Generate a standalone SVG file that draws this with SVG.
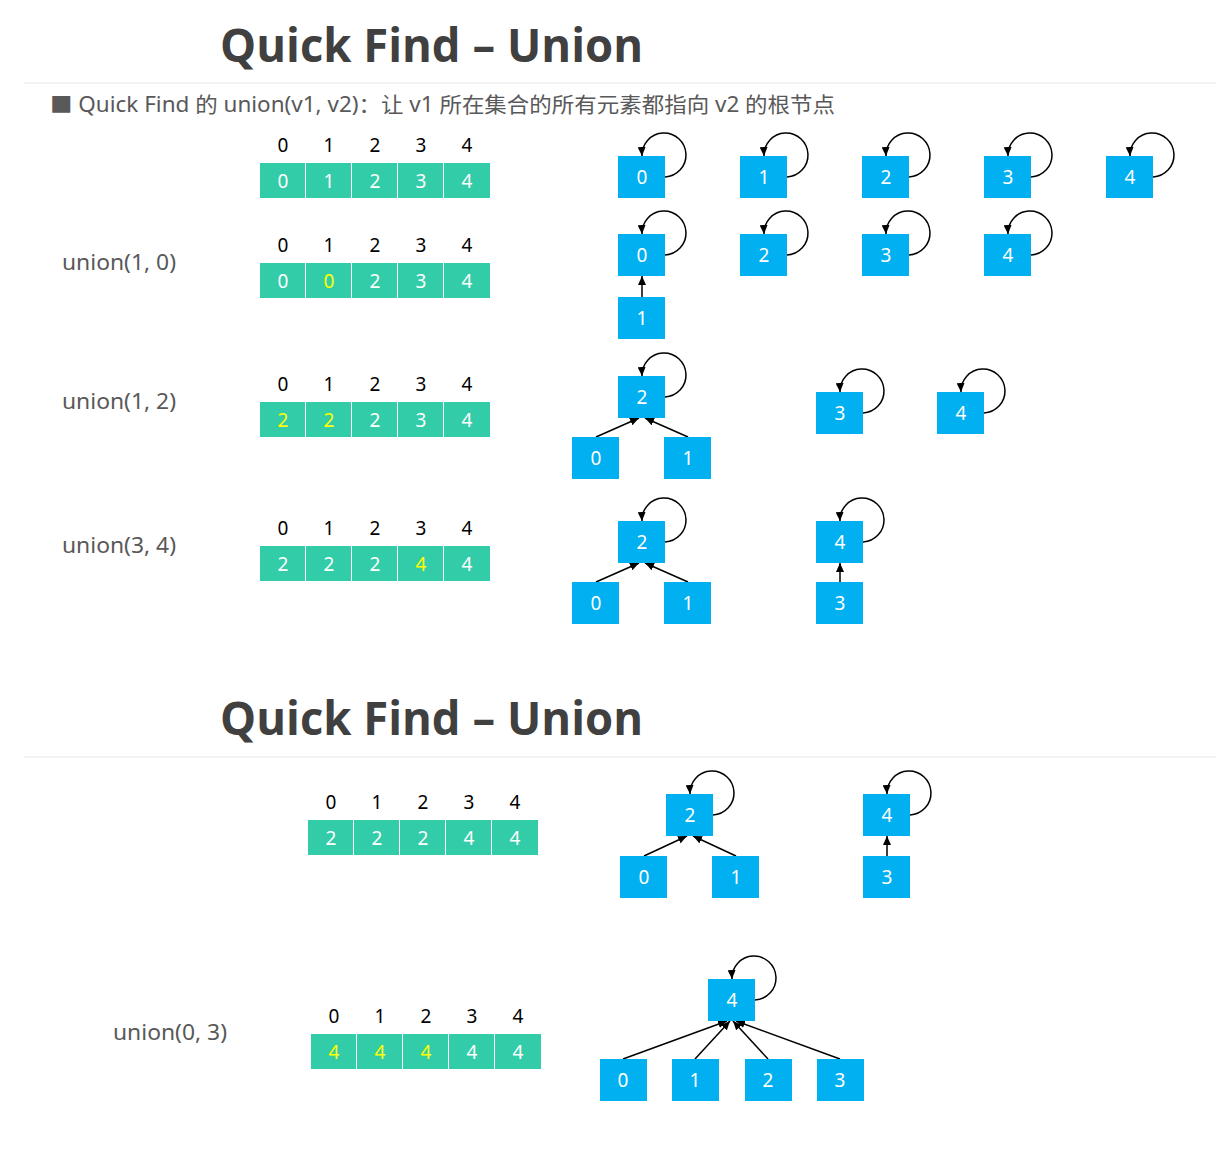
<svg xmlns="http://www.w3.org/2000/svg" width="1216" height="1155" viewBox="0 0 1216 1155">
<style>
.title{font-family:"Open Sans","Noto Sans",sans-serif;font-weight:bold;font-size:46px;fill:#404040}
.sub{font-family:"Noto Sans","Noto Sans CJK SC",sans-serif;font-size:21px;fill:#595959}
.lbl{font-family:"Noto Sans",sans-serif;font-size:22px;fill:#595959}
.idx{font-family:"Noto Sans",sans-serif;font-size:19px;fill:#000;text-anchor:middle}
.cell{fill:#33CCA8}
.cv{font-family:"Noto Sans",sans-serif;font-size:19px;fill:#fff;text-anchor:middle}
.y{fill:#FFFF00}
.node rect{fill:#00B0F0}
.node text{font-family:"Noto Sans",sans-serif;font-size:19px;fill:#fff;text-anchor:middle}
.e{stroke:#000;stroke-width:1.5;fill:none;marker-end:url(#ah)}
.sep{stroke:#f2f2f2;stroke-width:2}
</style>
<defs>
<marker id="ah" markerUnits="userSpaceOnUse" markerWidth="9" markerHeight="8" refX="9" refY="4" orient="auto">
<path d="M0,0 L9,4 L0,8 z" fill="#000"/>
</marker>
</defs>
<rect width="1216" height="1155" fill="#fff"/>

<!-- Section 1 header -->
<text class="title" x="220" y="62" textLength="423" lengthAdjust="spacingAndGlyphs">Quick Find – Union</text>
<line class="sep" x1="24" y1="83" x2="1216" y2="83"/>
<text class="sub" x="50" y="112" textLength="785" lengthAdjust="spacingAndGlyphs">■ Quick Find 的 union(v1, v2)：让 v1 所在集合的所有元素都指向 v2 的根节点</text>

<text class="lbl" x="62" y="270" textLength="114" lengthAdjust="spacingAndGlyphs">union(1, 0)</text>
<text class="lbl" x="62" y="409" textLength="114" lengthAdjust="spacingAndGlyphs">union(1, 2)</text>
<text class="lbl" x="62" y="553" textLength="114" lengthAdjust="spacingAndGlyphs">union(3, 4)</text>
<text class="lbl" x="113" y="1040" textLength="114" lengthAdjust="spacingAndGlyphs">union(0, 3)</text>

<!-- Arrays -->
<g id="array1">
<text class="idx" x="283" y="152">0</text><text class="idx" x="329" y="152">1</text><text class="idx" x="375" y="152">2</text><text class="idx" x="421" y="152">3</text><text class="idx" x="467" y="152">4</text>
<rect class="cell" x="260" y="163" width="45" height="35"/><rect class="cell" x="306" y="163" width="45" height="35"/><rect class="cell" x="352" y="163" width="45" height="35"/><rect class="cell" x="398" y="163" width="45" height="35"/><rect class="cell" x="444" y="163" width="46" height="35"/>
<text class="cv" x="283" y="188">0</text><text class="cv" x="329" y="188">1</text><text class="cv" x="375" y="188">2</text><text class="cv" x="421" y="188">3</text><text class="cv" x="467" y="188">4</text>
</g>
<g id="array2">
<text class="idx" x="283" y="252">0</text><text class="idx" x="329" y="252">1</text><text class="idx" x="375" y="252">2</text><text class="idx" x="421" y="252">3</text><text class="idx" x="467" y="252">4</text>
<rect class="cell" x="260" y="263" width="45" height="35"/><rect class="cell" x="306" y="263" width="45" height="35"/><rect class="cell" x="352" y="263" width="45" height="35"/><rect class="cell" x="398" y="263" width="45" height="35"/><rect class="cell" x="444" y="263" width="46" height="35"/>
<text class="cv" x="283" y="288">0</text><text class="cv y" x="329" y="288">0</text><text class="cv" x="375" y="288">2</text><text class="cv" x="421" y="288">3</text><text class="cv" x="467" y="288">4</text>
</g>
<g id="array3">
<text class="idx" x="283" y="391">0</text><text class="idx" x="329" y="391">1</text><text class="idx" x="375" y="391">2</text><text class="idx" x="421" y="391">3</text><text class="idx" x="467" y="391">4</text>
<rect class="cell" x="260" y="402" width="45" height="35"/><rect class="cell" x="306" y="402" width="45" height="35"/><rect class="cell" x="352" y="402" width="45" height="35"/><rect class="cell" x="398" y="402" width="45" height="35"/><rect class="cell" x="444" y="402" width="46" height="35"/>
<text class="cv y" x="283" y="427">2</text><text class="cv y" x="329" y="427">2</text><text class="cv" x="375" y="427">2</text><text class="cv" x="421" y="427">3</text><text class="cv" x="467" y="427">4</text>
</g>
<g id="array4">
<text class="idx" x="283" y="535">0</text><text class="idx" x="329" y="535">1</text><text class="idx" x="375" y="535">2</text><text class="idx" x="421" y="535">3</text><text class="idx" x="467" y="535">4</text>
<rect class="cell" x="260" y="546" width="45" height="35"/><rect class="cell" x="306" y="546" width="45" height="35"/><rect class="cell" x="352" y="546" width="45" height="35"/><rect class="cell" x="398" y="546" width="45" height="35"/><rect class="cell" x="444" y="546" width="46" height="35"/>
<text class="cv" x="283" y="571">2</text><text class="cv" x="329" y="571">2</text><text class="cv" x="375" y="571">2</text><text class="cv y" x="421" y="571">4</text><text class="cv" x="467" y="571">4</text>
</g>

<!-- Section 2 header -->
<text class="title" x="220" y="735" textLength="423" lengthAdjust="spacingAndGlyphs">Quick Find – Union</text>
<line class="sep" x1="24" y1="757" x2="1216" y2="757"/>

<g id="array5">
<text class="idx" x="331" y="809">0</text><text class="idx" x="377" y="809">1</text><text class="idx" x="423" y="809">2</text><text class="idx" x="469" y="809">3</text><text class="idx" x="515" y="809">4</text>
<rect class="cell" x="308" y="820" width="45" height="35"/><rect class="cell" x="354" y="820" width="45" height="35"/><rect class="cell" x="400" y="820" width="45" height="35"/><rect class="cell" x="446" y="820" width="45" height="35"/><rect class="cell" x="492" y="820" width="46" height="35"/>
<text class="cv" x="331" y="845">2</text><text class="cv" x="377" y="845">2</text><text class="cv" x="423" y="845">2</text><text class="cv" x="469" y="845">4</text><text class="cv" x="515" y="845">4</text>
</g>
<g id="array6">
<text class="idx" x="334" y="1023">0</text><text class="idx" x="380" y="1023">1</text><text class="idx" x="426" y="1023">2</text><text class="idx" x="472" y="1023">3</text><text class="idx" x="518" y="1023">4</text>
<rect class="cell" x="311" y="1034" width="45" height="35"/><rect class="cell" x="357" y="1034" width="45" height="35"/><rect class="cell" x="403" y="1034" width="45" height="35"/><rect class="cell" x="449" y="1034" width="45" height="35"/><rect class="cell" x="495" y="1034" width="46" height="35"/>
<text class="cv y" x="334" y="1059">4</text><text class="cv y" x="380" y="1059">4</text><text class="cv y" x="426" y="1059">4</text><text class="cv" x="472" y="1059">4</text><text class="cv" x="518" y="1059">4</text>
</g>

<!-- Connectors -->
<g id="connectors">
<path class="e" d="M665,177 A22,22 0 1 0 642,156"/>
<path class="e" d="M787,177 A22,22 0 1 0 764,156"/>
<path class="e" d="M909,177 A22,22 0 1 0 886,156"/>
<path class="e" d="M1031,177 A22,22 0 1 0 1008,156"/>
<path class="e" d="M1153,177 A22,22 0 1 0 1130,156"/>
<path class="e" d="M665,255 A22,22 0 1 0 642,234"/>
<path class="e" d="M787,255 A22,22 0 1 0 764,234"/>
<path class="e" d="M909,255 A22,22 0 1 0 886,234"/>
<path class="e" d="M1031,255 A22,22 0 1 0 1008,234"/>
<line class="e" x1="642" y1="297" x2="642" y2="276"/>
<path class="e" d="M665,397 A22,22 0 1 0 642,376"/>
<line class="e" x1="596" y1="437" x2="639" y2="418"/>
<line class="e" x1="688" y1="437" x2="645" y2="418"/>
<path class="e" d="M863,413 A22,22 0 1 0 840,392"/>
<path class="e" d="M984,413 A22,22 0 1 0 961,392"/>
<path class="e" d="M665,542 A22,22 0 1 0 642,521"/>
<line class="e" x1="596" y1="582" x2="639" y2="563"/>
<line class="e" x1="688" y1="582" x2="645" y2="563"/>
<path class="e" d="M863,542 A22,22 0 1 0 840,521"/>
<line class="e" x1="840" y1="582" x2="840" y2="563"/>
<path class="e" d="M713,815 A22,22 0 1 0 690,794"/>
<line class="e" x1="644" y1="856" x2="687" y2="836"/>
<line class="e" x1="736" y1="856" x2="693" y2="836"/>
<path class="e" d="M910,815 A22,22 0 1 0 887,794"/>
<line class="e" x1="887" y1="856" x2="887" y2="836"/>
<path class="e" d="M755,1000 A22,22 0 1 0 732,979"/>
<line class="e" x1="623" y1="1059" x2="727" y2="1021"/>
<line class="e" x1="695" y1="1059" x2="730" y2="1021"/>
<line class="e" x1="768" y1="1059" x2="733" y2="1021"/>
<line class="e" x1="840" y1="1059" x2="736" y2="1021"/>
</g>

<!-- Nodes -->
<g id="r1n0" class="node"><rect x="618" y="156" width="47" height="42"/><text x="642" y="184">0</text></g>
<g id="r1n1" class="node"><rect x="740" y="156" width="47" height="42"/><text x="764" y="184">1</text></g>
<g id="r1n2" class="node"><rect x="862" y="156" width="47" height="42"/><text x="886" y="184">2</text></g>
<g id="r1n3" class="node"><rect x="984" y="156" width="47" height="42"/><text x="1008" y="184">3</text></g>
<g id="r1n4" class="node"><rect x="1106" y="156" width="47" height="42"/><text x="1130" y="184">4</text></g>

<g id="r2n0" class="node"><rect x="618" y="234" width="47" height="42"/><text x="642" y="262">0</text></g>
<g id="r2n2" class="node"><rect x="740" y="234" width="47" height="42"/><text x="764" y="262">2</text></g>
<g id="r2n3" class="node"><rect x="862" y="234" width="47" height="42"/><text x="886" y="262">3</text></g>
<g id="r2n4" class="node"><rect x="984" y="234" width="47" height="42"/><text x="1008" y="262">4</text></g>
<g id="r2n1" class="node"><rect x="618" y="297" width="47" height="42"/><text x="642" y="325">1</text></g>

<g id="r3n2" class="node"><rect x="618" y="376" width="47" height="42"/><text x="642" y="404">2</text></g>
<g id="r3n0" class="node"><rect x="572" y="437" width="47" height="42"/><text x="596" y="465">0</text></g>
<g id="r3n1" class="node"><rect x="664" y="437" width="47" height="42"/><text x="688" y="465">1</text></g>
<g id="r3n3" class="node"><rect x="816" y="392" width="47" height="42"/><text x="840" y="420">3</text></g>
<g id="r3n4" class="node"><rect x="937" y="392" width="47" height="42"/><text x="961" y="420">4</text></g>

<g id="r4n2" class="node"><rect x="618" y="521" width="47" height="42"/><text x="642" y="549">2</text></g>
<g id="r4n0" class="node"><rect x="572" y="582" width="47" height="42"/><text x="596" y="610">0</text></g>
<g id="r4n1" class="node"><rect x="664" y="582" width="47" height="42"/><text x="688" y="610">1</text></g>
<g id="r4n4" class="node"><rect x="816" y="521" width="47" height="42"/><text x="840" y="549">4</text></g>
<g id="r4n3" class="node"><rect x="816" y="582" width="47" height="42"/><text x="840" y="610">3</text></g>

<g id="s2n2" class="node"><rect x="666" y="794" width="47" height="42"/><text x="690" y="822">2</text></g>
<g id="s2n0" class="node"><rect x="620" y="856" width="47" height="42"/><text x="644" y="884">0</text></g>
<g id="s2n1" class="node"><rect x="712" y="856" width="47" height="42"/><text x="736" y="884">1</text></g>
<g id="s2n4" class="node"><rect x="863" y="794" width="47" height="42"/><text x="887" y="822">4</text></g>
<g id="s2n3" class="node"><rect x="863" y="856" width="47" height="42"/><text x="887" y="884">3</text></g>

<g id="b4" class="node"><rect x="708" y="979" width="47" height="42"/><text x="732" y="1007">4</text></g>
<g id="b0" class="node"><rect x="600" y="1059" width="47" height="42"/><text x="623" y="1087">0</text></g>
<g id="b1" class="node"><rect x="672" y="1059" width="47" height="42"/><text x="695" y="1087">1</text></g>
<g id="b2" class="node"><rect x="745" y="1059" width="47" height="42"/><text x="768" y="1087">2</text></g>
<g id="b3" class="node"><rect x="817" y="1059" width="47" height="42"/><text x="840" y="1087">3</text></g>
</svg>
